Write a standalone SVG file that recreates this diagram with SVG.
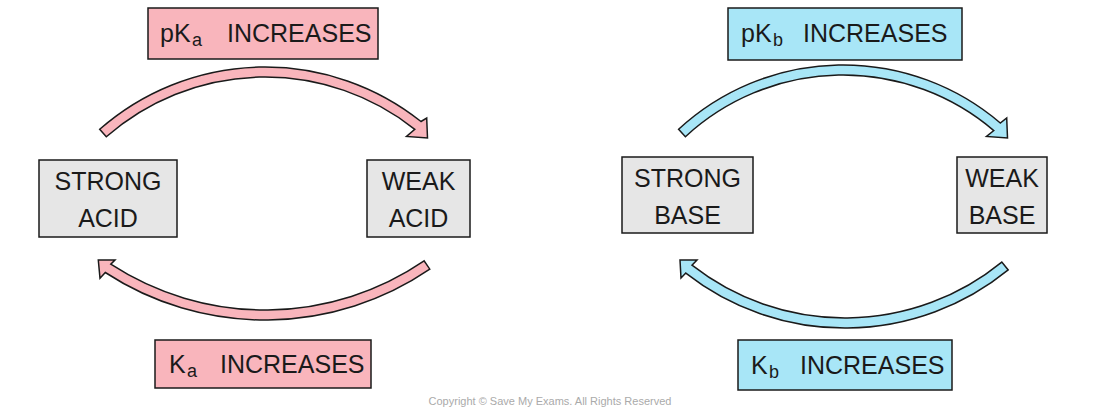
<svg xmlns="http://www.w3.org/2000/svg" width="1100" height="412" viewBox="0 0 1100 412">
<style>
.box{fill:#e6e6e6;stroke:#1a1a1a;stroke-width:1.5}
.t{font-family:"Liberation Sans",Arial,sans-serif;font-size:25px;fill:#1a1a1a;text-anchor:middle}
.lt{font-family:"Liberation Sans",Arial,sans-serif;font-size:25px;fill:#1a1a1a}
.sub{font-family:"Liberation Sans",Arial,sans-serif;font-size:18px;fill:#1a1a1a}
.pink{fill:#f9b5bc;stroke:#1a1a1a;stroke-width:1.5;stroke-linejoin:miter}
.blue{fill:#a8e6f7;stroke:#1a1a1a;stroke-width:1.5;stroke-linejoin:miter}
.copy{font-family:"Liberation Sans",Arial,sans-serif;font-size:11px;fill:#aaaaaa;text-anchor:middle}
</style>
<rect width="1100" height="412" fill="#ffffff"/>
<g id="connectors">
<path id="arc-pka" class="pink" d="M99.7,129.3 A250.6,250.6 0 0 1 421.0,121.5 L426.7,118.0 L427.5,138.0 L406.5,136.5 L414.8,129.3 A240.6,240.6 0 0 0 106.3,136.8 Z"/>
<path id="arc-ka" class="pink" d="M424.1,260.9 A282.4,282.4 0 0 1 110.8,264.2 L115,260 L98.3,260 L100,278.3 L105.3,272.5 A292.4,292.4 0 0 0 429.8,269.2 Z"/>
<path id="arc-pkb" class="blue" d="M678.6,129.3 A242.2,242.2 0 0 1 1000.3,123.0 L1006.7,118.0 L1007.5,138.0 L986.5,136.5 L993.8,130.6 A232.2,232.2 0 0 0 685.4,136.7 Z"/>
<path id="arc-kb" class="blue" d="M1001.8,262.1 A248.1,248.1 0 0 1 692.0,265.2 L697,260 L680,260 L681,278 L685.8,273.1 A258.1,258.1 0 0 0 1008.2,269.9 Z"/>
</g>
<g id="label-pka">
<rect class="pink" x="148" y="8" width="230" height="51"/>
<text class="lt" x="160" y="42">pK</text>
<text class="sub" x="192" y="46">a</text>
<text class="lt" x="227" y="42">INCREASES</text>
</g>
<g id="label-ka">
<rect class="pink" x="155" y="340" width="216" height="48"/>
<text class="lt" x="169" y="373">K</text>
<text class="sub" x="187" y="377">a</text>
<text class="lt" x="220" y="373">INCREASES</text>
</g>
<g id="label-pkb">
<rect class="blue" x="728" y="8" width="234" height="52"/>
<text class="lt" x="741" y="42">pK</text>
<text class="sub" x="773" y="46">b</text>
<text class="lt" x="803" y="42">INCREASES</text>
</g>
<g id="label-kb">
<rect class="blue" x="738" y="340" width="214" height="50"/>
<text class="lt" x="751" y="374">K</text>
<text class="sub" x="769" y="378">b</text>
<text class="lt" x="800" y="374">INCREASES</text>
</g>
<g id="strong-acid">
<rect class="box" x="39" y="160" width="138" height="77"/>
<text class="t" x="108" y="190">STRONG</text>
<text class="t" x="108" y="227">ACID</text>
</g>
<g id="weak-acid">
<rect class="box" x="367" y="160" width="103" height="77"/>
<text class="t" x="418.5" y="190">WEAK</text>
<text class="t" x="418.5" y="227">ACID</text>
</g>
<g id="strong-base">
<rect class="box" x="622" y="157" width="131" height="76"/>
<text class="t" x="687.5" y="187">STRONG</text>
<text class="t" x="687.5" y="224">BASE</text>
</g>
<g id="weak-base">
<rect class="box" x="957" y="157" width="90" height="76"/>
<text class="t" x="1002" y="187">WEAK</text>
<text class="t" x="1002" y="224">BASE</text>
</g>
<text class="copy" x="550" y="405">Copyright © Save My Exams. All Rights Reserved</text>
</svg>
